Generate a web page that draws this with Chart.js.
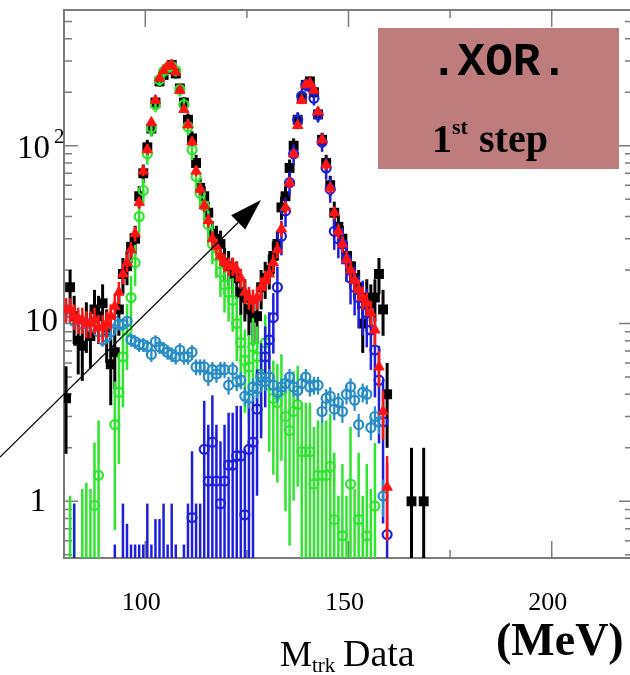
<!DOCTYPE html>
<html>
<head>
<meta charset="utf-8">
<script src="https://cdn.jsdelivr.net/npm/chart.js@4/dist/chart.umd.min.js"></script>
<style>
html, body { margin: 0; padding: 0; background: #fff; overflow: hidden; }
canvas { display: block; }
</style>
</head>
<body>
<canvas id="massChart" width="640" height="675"></canvas>
<script>
// bin centres (MeV), 1 MeV bins
const mass = [];
for (let m = 80.5; m < 170; m += 1) mass.push(m);

// data (black squares)
const dataCounts = [
    3.8, 16, 11, 8, 7.5, 10, 8.5, 12, 11, 13,
    9, 5.9, 6.9, 12, 19, 21, 27, 30, 52, 70,
    98, 125, 175, 230, 250, 270, 285, 255, 210, 175,
    140, 110, 80, 58, 52, 42, 32, 30, 28, 22,
    21, 19, 18, 15, 14, 12, 10.8, 11, 16, 18,
    20, 24, 28, 45, 52, 75, 100, 140, 185, 220,
    230, 200, 150, 108, 80, 60, 42, 35, 30, 24,
    21, 18, 16, 10, 14, 13, 14, 19, 12, 4,
    null, null, null, null, null, 1, null, null, 1, null
];

// total MC (red triangles)
const mcTotal = [
    12, 12, 11, 10.5, 10.5, 10, 10, 10.5, 9.5, 9.5,
    10, 11, 12.5, 15, 19, 22, 26, 32, 48, 72,
    95, 135, 180, 240, 265, 280, 285, 260, 205, 160,
    131, 105, 72, 57, 46, 38, 30, 27, 24, 22,
    21, 21, 20, 18, 15, 14, 13.5, 14, 16, 17.5,
    19, 22, 26, 34, 45, 62, 90, 130, 180, 220,
    225, 205, 155, 108, 78, 58, 42, 33, 28, 23,
    20, 17.5, 15.5, 14, 13, 11.5, 9.2, 5.7, 3.2, 1.2
];

// K -> mu nu MC (green circles)
const mcMuon = [
    null, 0.35, 0.3, null, 0.4, 0.45, 0.4, 0.95, 1.4, null,
    null, null, 2.7, 4.1, 6.5, 9.2, 14, 22, 40, 56,
    90, 126, 170, 235, 262, 275, 280, 265, 207, 170,
    128, 95, 67, 54, 46, 36, 28, 24, 19.5, 16.5,
    15, 13.5, 10, 7.8, 6.2, 5.7, 7.4, 6.5, 5.2, 7.8,
    4.5, 3.8, 3.6, 4.2, 3.0, 2.5, 3.2, 3.5, 1.9, 1.9,
    1.9, 1.25, 1.4, 1.4, 1.4, 1.57, 0.79, 0.35, 0.64, 0.35,
    1.25, 0.4, 0.79, 0.35, 0.64, 0.4, 0.94, null, null, null
];

// K -> pi pi0 MC (blue circles)
const mcPion = [
    null, null, 0.3, null, null, null, null, null, null, null,
    null, null, 0.13, null, 0.3, 0.2, 0.13, 0.13, 0.13, 0.13,
    0.3, 0.13, 0.22, 0.22, 0.3, 0.13, 0.3, 0.13, null, 0.13,
    0.3, 0.81, 0.3, 0.3, 1.96, 1.3, 2.15, 1.3, 0.97, 1.3,
    1.6, 1.6, 1.8, 1.8, 0.84, 1.96, 2.15, 3.3, 5, 6.5,
    8.1, 10.8, 16, 31, 43, 62, 90, 140, 190, 220,
    215, 185, 150, 105, 75, 57, 33, 30, 28, 23,
    18, 16, 14, 13, 11.5, 9.2, 7.1, 4.8, 2.8, 0.65
];

// other channels MC (light blue circles)
const mcOther = [
    12, 11.5, 10.3, 10.5, 9.9, 10, 9.6, 9.6, 9, 8.1,
    8.4, 9, 10.3, 9.9, 9.9, 10.3, 8.1, 7.9, 7.6, 7.6,
    7.4, 6.7, 7.9, 7.4, 7.2, 6.9, 6.7, 6.5, 7.1, 6.5,
    6.5, 6.9, 5.7, 5.7, 5.7, 5.0, 5.5, 5.2, 5.5, 5.5,
    4.5, 5.5, 4.7, 4.8, 3.9, 3.8, 4.4, 4.3, 5.0, 4.7,
    5.0, 4.5, 4.1, 4.4, 4.6, 5.0, 4.4, 4.2, 4.6, 5.0,
    4.4, 4.5, 4.5, 3.2, 3.8, 3.9, 3.3, 3.6, 3.2, 4.0,
    4.4, 3.7, 2.7, 4.1, 4.0, 2.6, 3.0, 2.8, 1.07, null
];

const xTickValues = [100, 125, 150, 175, 200];
const xTickLabels = ['100', '150', '200'];
const yTickLabels = ['1', '10', '10'];

const serif = "'Liberation Serif', 'Times New Roman', serif";

function points(values) {
    const pts = [];
    values.forEach((v, i) => {
        if (v !== null && v !== undefined) pts.push({ x: mass[i], y: v });
    });
    return pts;
}

// vertical statistical error bars, weight scales the bin variance
const errorBars = {
    id: 'errorBars',
    beforeDatasetDraw(chart, args) {
        const ds = chart.data.datasets[args.index];
        if (!ds.errWeight) return;
        const { ctx, chartArea: a } = chart;
        const yScale = chart.scales.y;
        ctx.save();
        ctx.beginPath();
        ctx.rect(a.left, a.top, a.right - a.left, a.bottom - a.top);
        ctx.clip();
        ctx.strokeStyle = ds.borderColor;
        ctx.lineWidth = ds.errWidth;
        args.meta.data.forEach((pt, i) => {
            const v = ds.data[i].y;
            const e = Math.sqrt(ds.errWeight * v);
            const lo = v - e > yScale.min ? yScale.getPixelForValue(v - e) : a.bottom;
            const hi = yScale.getPixelForValue(v + e);
            ctx.beginPath();
            ctx.moveTo(pt.x, lo);
            ctx.lineTo(pt.x, Math.max(hi, a.top));
            ctx.stroke();
        });
        ctx.restore();
    }
};

// frame, inward ticks and axis labels
const frame = {
    id: 'frame',
    beforeDatasetsDraw(chart) {
        const { ctx, chartArea: a, scales: { x, y } } = chart;
        ctx.save();
        ctx.strokeStyle = '#7c7c7c';
        ctx.lineWidth = 1.5;
        ctx.beginPath();
        xTickValues.forEach(v => {
            const px = x.getPixelForValue(v);
            const len = v % 50 === 0 ? 17 : 8;
            ctx.moveTo(px, a.top); ctx.lineTo(px, a.top + len);
            ctx.moveTo(px, a.bottom); ctx.lineTo(px, a.bottom - len);
        });
        for (let e = -1; e <= 2; e++) {
            for (let k = 1; k <= 9; k++) {
                const v = k * Math.pow(10, e);
                if (v < y.min || v > y.max) continue;
                const py = y.getPixelForValue(v);
                const len = k === 1 ? 14 : 8;
                ctx.moveTo(a.left, py); ctx.lineTo(a.left + len, py);
                ctx.moveTo(a.right, py); ctx.lineTo(a.right - len, py);
            }
        }
        ctx.stroke();
        ctx.lineWidth = 2;
        ctx.strokeRect(a.left, a.top, a.right - a.left, a.bottom - a.top);

        ctx.fillStyle = '#000';
        ctx.font = '26px ' + serif;
        ctx.textAlign = 'center';
        ctx.textBaseline = 'middle';
        [100, 150, 200].forEach((v, i) => {
            ctx.fillText(xTickLabels[i], x.getPixelForValue(v) - 4, 603);
        });
        ctx.font = '33px ' + serif;
        ctx.textAlign = 'right';
        ctx.fillText(yTickLabels[0], 46, y.getPixelForValue(1) + 1);
        ctx.fillText(yTickLabels[1], 58, y.getPixelForValue(10) - 1);
        ctx.fillText(yTickLabels[2], 50, y.getPixelForValue(100) + 4);
        ctx.textAlign = 'left';
        ctx.font = '21px ' + serif;
        ctx.fillText('2', 54, y.getPixelForValue(100) - 8);

        // x-axis title
        ctx.textBaseline = 'alphabetic';
        ctx.font = '36px ' + serif;
        ctx.fillText('M', 280, 666);
        ctx.font = '21px ' + serif;
        ctx.fillText('trk', 312, 672);
        ctx.font = '38px ' + serif;
        ctx.fillText('Data', 343, 666);
        ctx.font = 'bold 46px ' + serif;
        ctx.fillText('(MeV)', 496, 655);
        ctx.restore();
    },
    afterDatasetsDraw(chart) {
        const { ctx } = chart;
        ctx.save();
        // label box
        ctx.fillStyle = '#bf7c7c';
        ctx.fillRect(378, 28, 241, 141);
        ctx.fillStyle = '#000';
        ctx.textAlign = 'center';
        ctx.textBaseline = 'alphabetic';
        ctx.font = "bold 46px 'Courier New', 'Liberation Mono', monospace";
        ctx.fillText('.XOR.', 499, 75);
        ctx.textAlign = 'left';
        ctx.font = 'bold 40px ' + serif;
        ctx.fillText('1', 432, 152);
        ctx.font = 'bold 22px ' + serif;
        ctx.fillText('st', 452, 134);
        ctx.font = 'bold 40px ' + serif;
        ctx.fillText('step', 479, 152);

        // arrow
        const x0 = 0, y0 = 457, x1 = 261, y1 = 200;
        const ang = Math.atan2(y1 - y0, x1 - x0);
        const headLen = 32, headHalf = 10;
        const bx = x1 - headLen * Math.cos(ang), by = y1 - headLen * Math.sin(ang);
        ctx.strokeStyle = '#000';
        ctx.lineWidth = 1.2;
        ctx.beginPath();
        ctx.moveTo(x0, y0);
        ctx.lineTo(bx, by);
        ctx.stroke();
        ctx.beginPath();
        ctx.moveTo(x1, y1);
        ctx.lineTo(bx + headHalf * Math.sin(ang), by - headHalf * Math.cos(ang));
        ctx.lineTo(bx - headHalf * Math.sin(ang), by + headHalf * Math.cos(ang));
        ctx.closePath();
        ctx.fillStyle = '#000';
        ctx.fill();
        ctx.restore();
    }
};

const green = 'rgb(45, 230, 45)';
const blue = 'rgb(30, 30, 220)';
const lightBlue = 'rgb(40, 140, 200)';
const red = 'rgb(255, 20, 20)';

new Chart(document.getElementById('massChart'), {
    type: 'scatter',
    data: {
        datasets: [
            {
                label: 'MC total', data: points(mcTotal), order: 1,
                pointStyle: 'triangle', pointRadius: 6,
                backgroundColor: red, borderColor: red, borderWidth: 1,
                errWeight: 0.3, errWidth: 2.5
            },
            {
                label: 'MC other', data: points(mcOther), order: 2,
                pointStyle: 'circle', pointRadius: 4.5,
                backgroundColor: 'rgba(0,0,0,0)', borderColor: lightBlue, borderWidth: 2.2,
                errWeight: 0.06, errWidth: 2.2
            },
            {
                label: 'MC K->pi pi0', data: points(mcPion), order: 3,
                pointStyle: 'circle', pointRadius: 4.5,
                backgroundColor: 'rgba(0,0,0,0)', borderColor: blue, borderWidth: 2.2,
                errWeight: 1.5, errWidth: 2.5
            },
            {
                label: 'MC K->mu nu', data: points(mcMuon), order: 4,
                pointStyle: 'circle', pointRadius: 4.5,
                backgroundColor: 'rgba(0,0,0,0)', borderColor: green, borderWidth: 2.2,
                errWeight: 1.5, errWidth: 2.5
            },
            {
                label: 'Data', data: points(dataCounts), order: 5,
                pointStyle: 'rect', pointRadius: 7,
                backgroundColor: '#000', borderColor: '#000', borderWidth: 0,
                errWeight: 1, errWidth: 3
            }
        ]
    },
    options: {
        responsive: false,
        animation: false,
        layout: { padding: { left: 64, top: 10, right: 4, bottom: 117 } },
        scales: {
            x: { type: 'linear', min: 80, max: 220, display: false },
            y: { type: 'logarithmic', min: 0.48, max: 580, display: false }
        },
        plugins: {
            legend: { display: false },
            tooltip: { enabled: false }
        }
    },
    plugins: [errorBars, frame]
});
</script>
</body>
</html>
